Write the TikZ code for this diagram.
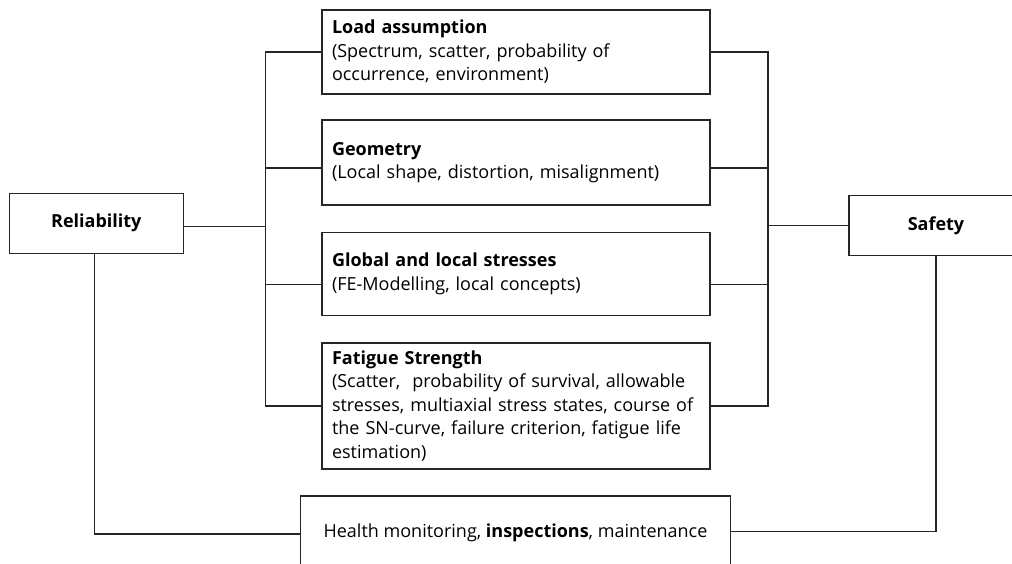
\documentclass[tikz,border=0pt]{standalone}
\usepackage{fontspec}
\setmainfont{Open Sans}
\usetikzlibrary{positioning}

\begin{document}
\begin{tikzpicture}[x=1pt,y=-1pt,node distance=110pt,on grid,
	textbox/.style={draw=black!85,line width=1.3pt,rectangle,text width=374pt,inner xsep=7pt,inner ysep=0pt,align=left,font=\fontsize{18}{23.5}\selectfont},
	endbox/.style={draw=black!85,line width=1.3pt,rectangle,minimum width=174pt,minimum height=60pt,font=\fontsize{18}{23.5}\selectfont\bfseries},
	link/.style={draw=black!85,line width=1.3pt}]
	\useasboundingbox (0,0) rectangle (1012,563);
					\node[textbox,minimum height=84pt]  (load) at (516,52)          {\hspace*{3pt}\textbf{Load assumption}\\\hspace*{3pt}(Spectrum, scatter, probability of\\\hspace*{3pt}occurrence, environment)};
					\node[textbox,minimum height=85pt]  (geo)  [below=110.5pt of load] {\hspace*{3pt}\textbf{Geometry}\\\hspace*{3pt}(Local shape, distortion, misalignment)};
					\node[textbox,minimum height=83pt]  (glob) [below=111.3pt of geo]  {\hspace*{3pt}\textbf{Global and local stresses}\\\hspace*{3pt}(FE-Modelling, local concepts)};
					\node[textbox,minimum height=126pt] (fat)  [below=132.2pt of glob] {\hspace*{3pt}\textbf{Fatigue Strength}\\\hspace*{3pt}(Scatter,~ probability of survival, allowable\\\hspace*{3pt}stresses, multiaxial stress states, course of\\\hspace*{3pt}the SN-curve, failure criterion, fatigue life\\\hspace*{3pt}estimation)};
					
					\node[endbox] (rel)  at (96.3,223.3) {Reliability};
					\node[endbox] (safe) at (936,225.3)  {Safety};
					\node[draw=black!85,line width=1.3pt,rectangle,minimum width=429.6pt,minimum height=74pt,font=\fontsize{18}{23.5}\selectfont] (health) at (515.5,533) {Health monitoring, \textbf{inspections}, maintenance};
					
					\coordinate (bl) at (265.3,0);
					\coordinate (br) at (768,0);
					\coordinate (geoL)  at ([yshift=-5.5pt]geo.west);
					\coordinate (geoR)  at ([yshift=-5.5pt]geo.east);
					\coordinate (globL) at ([yshift=-11pt]glob.west);
					\coordinate (globR) at ([yshift=-11pt]glob.east);
					\coordinate (relR)  at ([yshift=-3.4pt]rel.east);
					\coordinate (relB)  at ([xshift=-2pt]rel.south);
					\coordinate (healthL) at ([yshift=-1pt]health.west);
					\coordinate (healthR) at ([yshift=1.7pt]health.east);
					
					% left bus
					\path[link] (load.west) -- (load.west -| bl) -- (fat.west -| bl) -- (fat.west)
						  (geoL) -- (geoL -| bl)
						  (globL) -- (globL -| bl)
						  (relR) -- (relR -| bl);
					% right bus
					\path[link] (load.east) -- (load.east -| br) -- (fat.east -| br) -- (fat.east)
						  (geoR) -- (geoR -| br)
						  (globR) -- (globR -| br)
						  (safe.west) -- (safe.west -| br);
					% health monitoring
					\path[link] (relB) |- (healthL)
						  (safe.south) |- (healthR);
				\end{tikzpicture}
\end{document}
